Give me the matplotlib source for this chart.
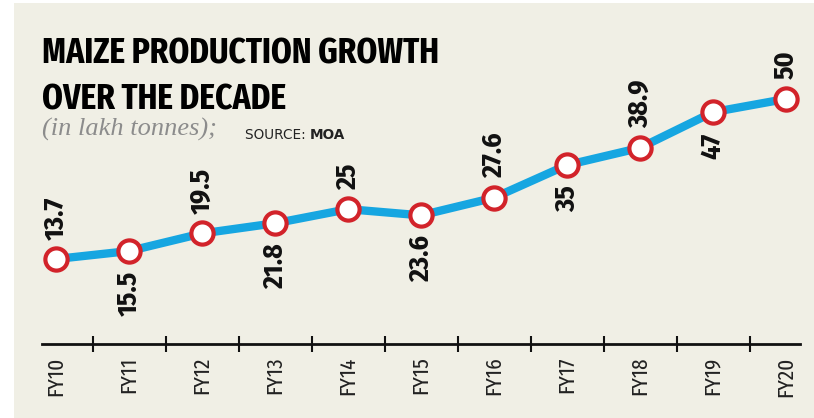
import matplotlib
matplotlib.use("Agg")
import matplotlib.pyplot as plt
from matplotlib.patches import Rectangle

years = ["FY10", "FY11", "FY12", "FY13", "FY14", "FY15", "FY16", "FY17", "FY18", "FY19", "FY20"]
production = [13.7, 15.5, 19.5, 21.8, 25, 23.6, 27.6, 35, 38.9, 47, 50]
label_text = ["13.7", "15.5", "19.5", "21.8", "25", "23.6", "27.6", "35", "38.9", "47", "50"]
label_above = [True, False, True, False, True, False, True, False, True, False, True]

XCOND = ["Fira Sans Extra Condensed", "DejaVu Sans"]
COND = ["Fira Sans Condensed", "DejaVu Sans"]

BG = "#f0efe5"
BLUE = "#16a6e1"
RED = "#d2232a"

W, H = 814, 418
fig = plt.figure(figsize=(W / 100, H / 100), dpi=100, facecolor="white")
fig.patches.append(Rectangle((14 / W, 0), 1 - 14 / W, 1 - 3 / H, transform=fig.transFigure,
                             facecolor=BG, edgecolor="none", zorder=-10))

ax = fig.add_axes([0, 0, 1, 1])
ax.set_facecolor("none")
px_per_x = 73.0
px_per_y = 4.41
x0_px, y0_px = 56, 259
ax.set_xlim(-x0_px / px_per_x, (W - x0_px) / px_per_x)
ax.set_ylim(production[0] - (H - y0_px) / px_per_y, production[0] + y0_px / px_per_y)

xs = list(range(len(years)))
ax.plot(xs, production, color=BLUE, lw=6, solid_capstyle="round", zorder=2)
ax.plot(xs, production, ls="none", marker="o", ms=16, mfc="white", mec=RED, mew=3, zorder=3)

for x, v, t, up in zip(xs, production, label_text, label_above):
    ax.annotate(t, (x, v), xytext=(0, 14 if up else -14.5), textcoords="offset points",
                rotation=90, ha="center", va="bottom" if up else "top",
                fontsize=20, fontweight="bold", family=COND, color="#111111")

for s in ["top", "right", "left"]:
    ax.spines[s].set_visible(False)
axis_val = production[0] - (344 - y0_px) / px_per_y
ax.spines["bottom"].set_position(("data", axis_val))
ax.spines["bottom"].set_bounds(-0.19, 10.19)
ax.spines["bottom"].set_linewidth(2)
ax.spines["bottom"].set_color("#111111")
ax.set_yticks([])
ax.set_xticks(xs)
ax.set_xticklabels(years, rotation=90, fontsize=16.5, family=XCOND, color="#222222")
ax.tick_params(axis="x", which="major", length=0, pad=9)
ax.set_xticks([i + 0.5 for i in xs[:-1]], minor=True)
ax.tick_params(axis="x", which="minor", direction="inout", length=11, width=1.5, color="#111111")

fig.text(42 / W, 1 - 63 / H, "MAIZE PRODUCTION GROWTH", fontsize=26, fontweight="bold",
         family=XCOND, va="baseline", ha="left", color="black")
fig.text(42 / W, 1 - 110 / H, "OVER THE DECADE", fontsize=26, fontweight="bold",
         family=XCOND, va="baseline", ha="left", color="black")
fig.text(42 / W, 1 - 136 / H, "(in lakh tonnes);", fontsize=19, style="italic",
         family=["Liberation Serif", "DejaVu Serif"], va="baseline", ha="left", color="#8c8c8c")
src = fig.text(245 / W, 1 - 139 / H, "SOURCE: ", fontsize=9.8, family="DejaVu Sans",
               va="baseline", ha="left", color="#222222")
fig.canvas.draw()
bb = src.get_window_extent()
fig.text(bb.x1 / W, 1 - 139 / H, "MOA", fontsize=9.8, fontweight="bold", family="DejaVu Sans",
         va="baseline", ha="left", color="#222222")

fig.savefig("out.png", dpi=100, facecolor="white")
